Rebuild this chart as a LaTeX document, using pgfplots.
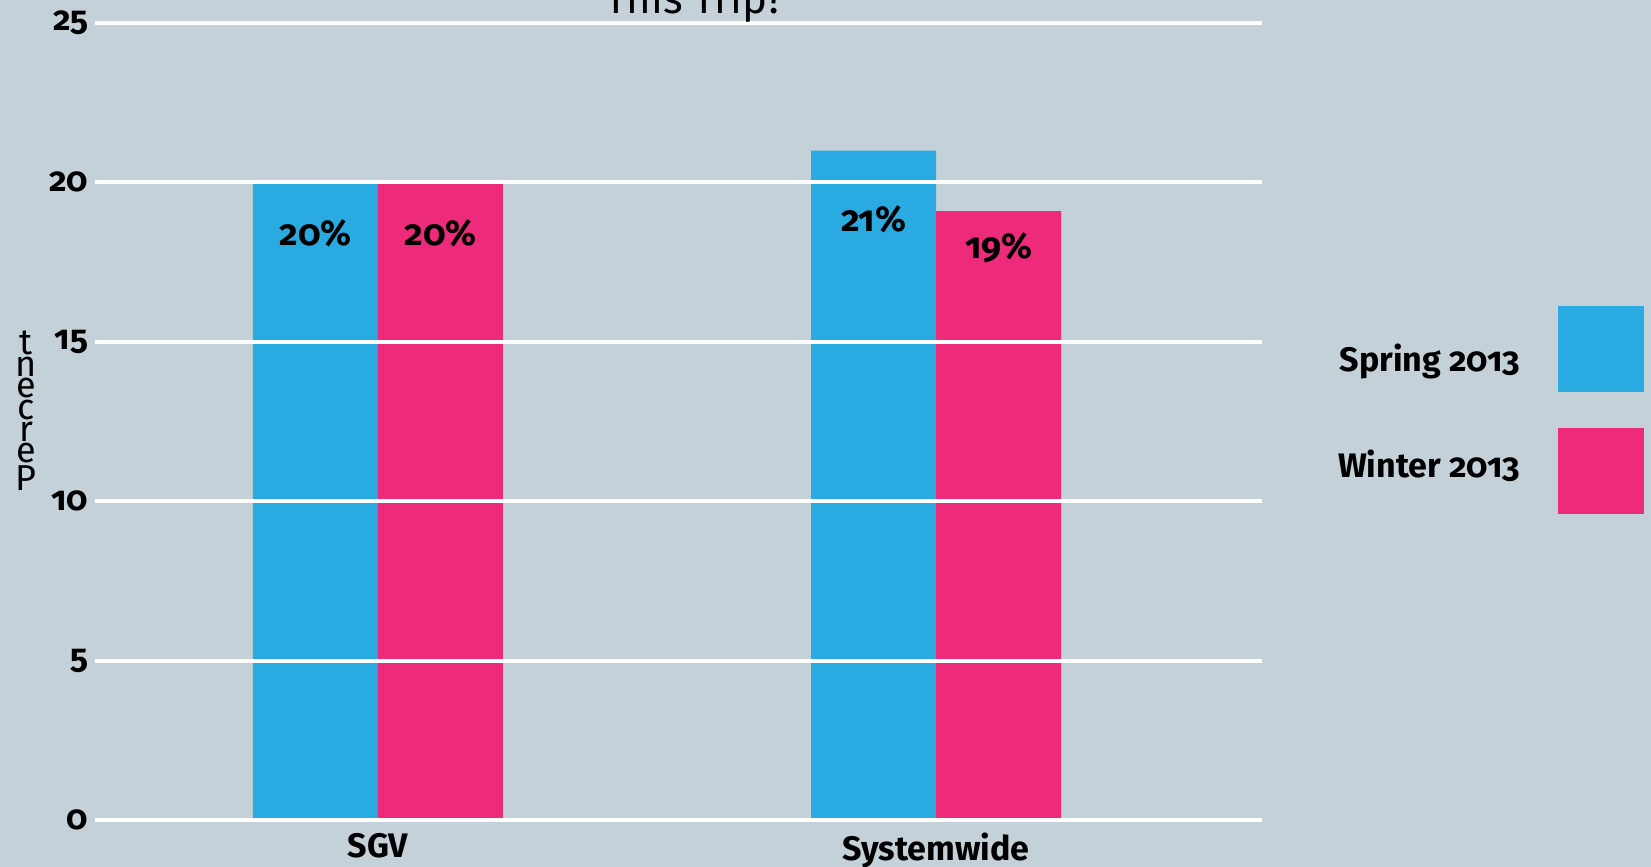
\documentclass[border=0pt]{standalone}
\usepackage{fontspec}
\setmainfont{Fira Sans}[Numbers=OldStyle]
\usepackage{pgfplots}
\pgfplotsset{compat=1.18}

\definecolor{bg}{RGB}{197,209,216}
\definecolor{springblue}{RGB}{41,170,225}
\definecolor{winterpink}{RGB}{238,42,123}

\pgfplotsset{
  mybar/.style={ybar, bar width=0.224, draw=none, fill=#1,
    legend image code/.code={\fill[#1] (0pt,-21.5pt) rectangle (43pt,21.5pt);}},
}

\begin{document}
\begin{tikzpicture}
\useasboundingbox (0,0) rectangle (825.5pt,433.5pt);
\fill[bg] (0,0) rectangle (825.5pt,433.5pt);
\clip (0,0) rectangle (825.5pt,433.5pt);

\begin{axis}[
  at={(47.5pt,23.5pt)}, anchor=south west,
  scale only axis, width=583.5pt, height=398.5pt,
  xmin=-0.507, xmax=1.584, ymin=0, ymax=25,
  axis line style={draw=none},
  axis on top,
  ymajorgrids, grid style={white, line width=2pt},
  major tick length=0pt,
  xtick={0,1}, xticklabels={SGV, Systemwide},
  ytick={0,5,...,25},
  tick label style={font=\fontsize{17}{20}\selectfont\bfseries},
  /pgf/number format/assume math mode=true,
  xticklabel style={yshift=-3pt},
  legend style={at={(1.328,0.6457)}, anchor=north east, draw=none, fill=none,
    inner sep=0pt, row sep=18pt, column sep=17pt,
    font=\fontsize{17}{20}\selectfont\bfseries},
  legend plot pos=right, legend cell align=right,
]
\addplot[mybar=springblue, bar shift=-0.112] coordinates {(0,20) (1,21)};
\addlegendentry[yshift=-5pt]{Spring 2013}
\addplot[mybar=winterpink, bar shift=0.112] coordinates {(0,20) (1,19.1)};
\addlegendentry[yshift=3pt]{Winter 2013}

\addplot[draw=none, mark=none, forget plot, nodes near coords,
  point meta=explicit symbolic,
  every node near coord/.append style={anchor=center,
    font=\fontsize{18}{20}\selectfont\bfseries}]
  coordinates {(-0.112,18.39) [20\%] (0.112,18.39) [20\%]
               (0.888,18.85) [21\%] (1.112,17.96) [19\%]};
\end{axis}

\node[anchor=base, font=\fontsize{21}{24}\selectfont] at (347.5pt,426.5pt) {This Trip?};
\node[align=center, font=\fontsize{18}{9.2}\selectfont] at (13pt,228.25pt)
  {t\\n\\e\\c\\r\\e\\P};
\end{tikzpicture}
\end{document}
